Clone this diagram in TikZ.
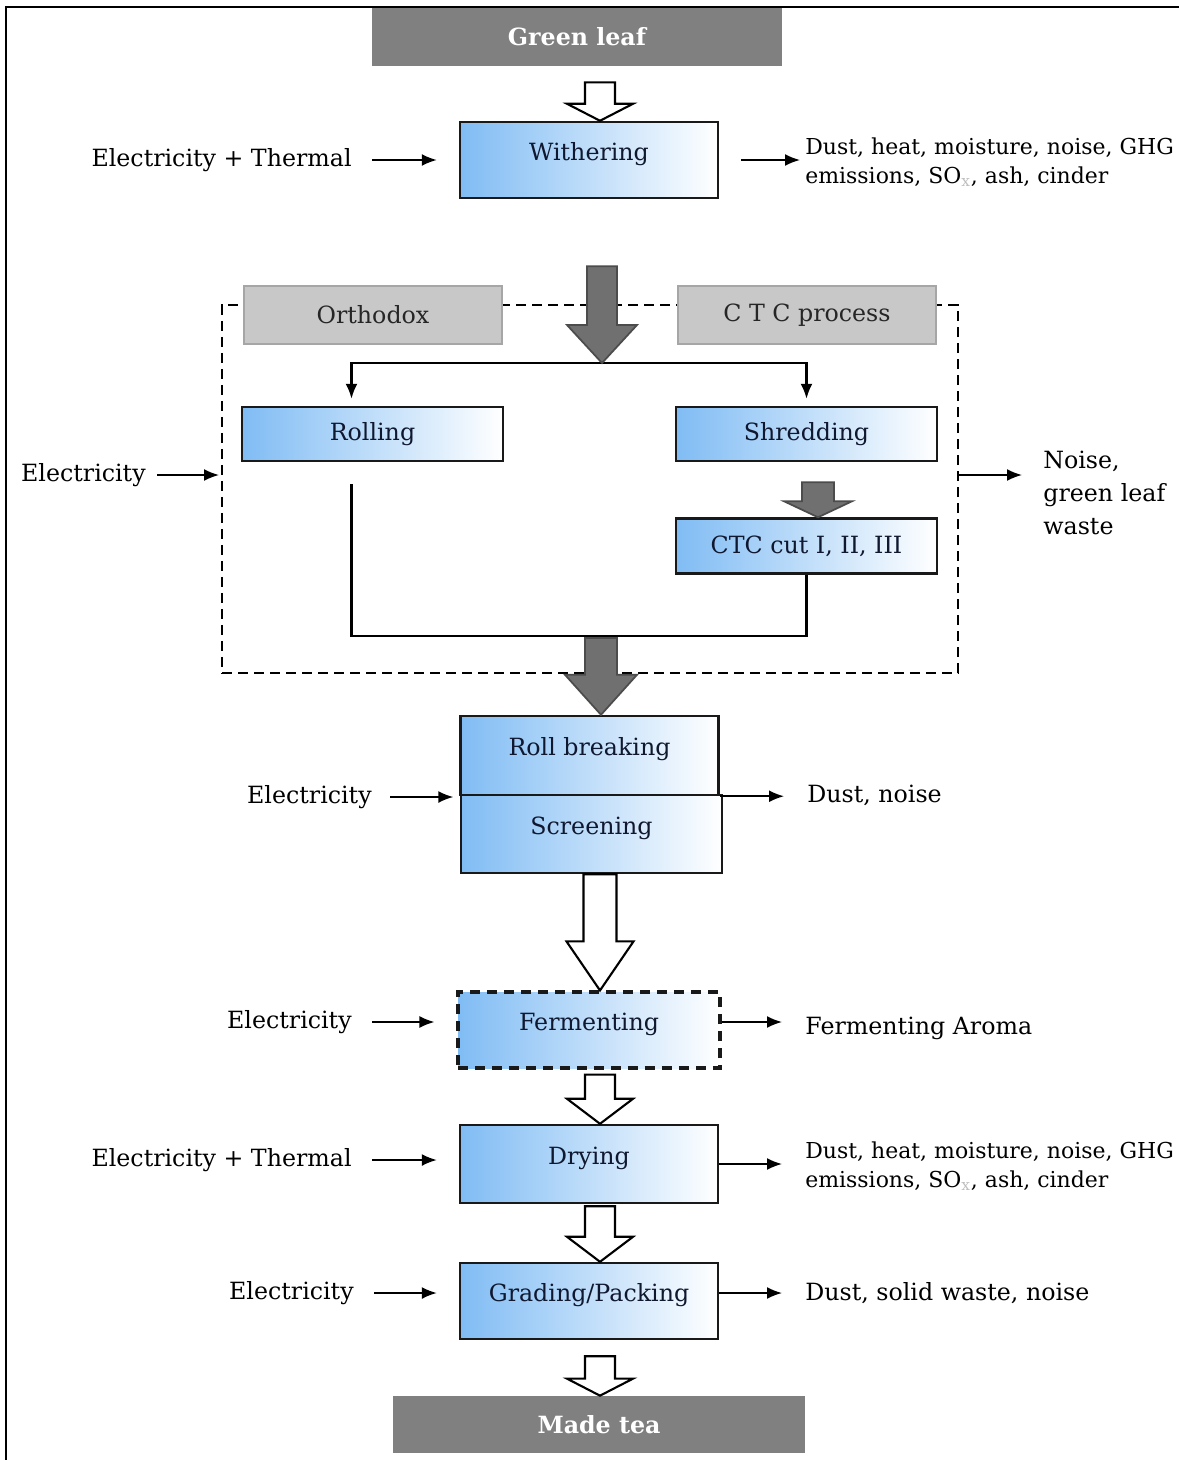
\documentclass[tikz,border=0pt]{standalone}
\usepackage{fontspec}
\setmainfont{DejaVu Serif}
\usepackage{tikz}
\usetikzlibrary{calc,arrows.meta,positioning}

\definecolor{procblue}{RGB}{128,188,244}
\definecolor{leafgrey}{RGB}{128,128,128}
\definecolor{typegrey}{RGB}{200,200,200}
\definecolor{pipegrey}{RGB}{112,112,112}
\definecolor{inktext}{RGB}{16,24,48}

\tikzset{
  srcbox/.style={fill=leafgrey, text=white, font=\bfseries, minimum width=8.2cm, minimum height=1.16cm, inner sep=0pt},
  proc/.style={draw=black!90, line width=1.4pt, left color=procblue, middle color=procblue!28, right color=white, text=inktext, minimum width=5.16cm, minimum height=1.52cm, inner sep=0pt, text height=0.3cm, text depth=0.3cm},
  flat/.style={minimum width=5.22cm, minimum height=1.08cm, text height=, text depth=},
  typebox/.style={fill=typegrey, draw=black!35, line width=0.8pt, minimum width=5.16cm, minimum height=1.16cm, inner sep=0pt, text=black!85},
  grouping/.style={draw, line width=1.2pt, dash pattern=on 0.2cm off 0.12cm, minimum width=14.72cm, minimum height=7.36cm},
  lbl/.style={inner sep=0pt},
  outtxt/.style={inner sep=0pt, anchor=west, align=left},
  feed/.style={-{Latex[length=0.3cm,width=0.24cm]}, line width=1pt, shorten <=0.4cm, shorten >=0.44cm},
  emit/.style={-{Latex[length=0.3cm,width=0.24cm]}, line width=1pt, shorten >=0.46cm},
  branch/.style={-{Latex[length=0.3cm,width=0.24cm]}, line width=1.2pt, shorten >=0.14cm},
  pipe/.style={line width=1.3pt},
  hollow/.style={draw=black, fill=white, line width=1.2pt},
  solidpipe/.style={draw=black!70, fill=pipegrey, line width=1pt}
}

\newcommand{\fatarrow}[6][]{%
  \draw[#1] ($(#2)+(-#4,0)$) -- ($(#3)+(-#4,-#6)$) -- ($(#3)+(-#5,-#6)$) -- (#3)
    -- ($(#3)+(#5,-#6)$) -- ($(#3)+(#4,-#6)$) -- ($(#2)+(#4,0)$) -- cycle;}

\begin{document}
\fontsize{13.5}{16}\selectfont
\begin{tikzpicture}[x=0.02cm, y=-0.02cm]
\useasboundingbox (0,0) rectangle (1179,1460);
\draw[line width=1.2pt] (6,1460) -- (6,7) -- (1179,7);

\coordinate (spine) at (600,0);

\node[srcbox] (green) at (577,37) {Green leaf};
\node[proc] (wither) at (589,160) {Withering};

\node[grouping] (group) at (590,489) {};
\node[typebox] (ortho) at (373,315) {Orthodox};
\node[typebox] (ctcp) at (807,315) {C T C process};
\node[proc, flat] (roll) at (372.5,434) {Rolling};
\node[proc, flat] (shred) at (806.5,434) {Shredding};
\node[proc, flat, minimum height=1.1cm] (ctccut) at (806.5,546) {CTC cut I, II, III};

\node[proc, minimum height=1.58cm] (rollbr) at (589.5,755.5) {Roll breaking};
\node[proc, minimum width=5.22cm, minimum height=1.56cm] (screen) at (591.5,834) {Screening};
\node[proc, minimum width=5.24cm, line width=1.8pt, dash pattern=on 0.2cm off 0.14cm] (ferm) at (589,1030) {Fermenting};
\node[proc, minimum height=1.56cm] (dry) at (589,1164) {Drying};
\node[proc] (grade) at (589,1301) {Grading/Packing};
\node[srcbox, minimum width=8.24cm, minimum height=1.14cm] (made) at (599,1424.5) {Made tea};

\node[lbl, anchor=east] (in1) at (352,160) {Electricity + Thermal};
\node[lbl, anchor=east] (in2) at (146,475) {Electricity};
\node[lbl, anchor=east] (in3) at (372,797) {Electricity};
\node[lbl, anchor=east] (in4) at (352,1022) {Electricity};
\node[lbl, anchor=east] (in5) at (352,1160) {Electricity + Thermal};
\node[lbl, anchor=east] (in6) at (354,1293) {Electricity};

\node[outtxt, font=\fontsize{12.5}{16.4}\selectfont] (out1) at (805,162) {Dust, heat, moisture, noise, GHG\\emissions, SO\textsubscript{\textcolor{black!25}{x}}, ash, cinder};
\node[outtxt, font=\fontsize{13.5}{18.7}\selectfont] (out2) at (1043,493) {Noise,\\green leaf\\waste};
\node[outtxt] (out3) at (807,795) {Dust, noise};
\node[outtxt] (out4) at (805,1028) {Fermenting Aroma};
\node[outtxt, font=\fontsize{12.5}{16.4}\selectfont] (out5) at (805,1166) {Dust, heat, moisture, noise, GHG\\emissions, SO\textsubscript{\textcolor{black!25}{x}}, ash, cinder};
\node[outtxt] (out6) at (805,1293) {Dust, solid waste, noise};

\draw[feed] (in1.east) -- (in1.east -| wither.west);
\draw[feed, shorten <=0.22cm, shorten >=0.04cm] (in2.east) -- (in2.east -| group.west);
\draw[feed, shorten <=0.36cm, shorten >=0.12cm] (in3.east) -- (in3.east -| rollbr.west);
\draw[feed] (in4.east) -- (in4.east -| ferm.west);
\draw[feed] (in5.east) -- (in5.east -| dry.west);
\draw[feed] (in6.east) -- (in6.east -| grade.west);

\draw[emit, shorten <=0.44cm, shorten >=0.1cm] (wither.east) -- (wither.east -| out1.west);
\draw[emit, shorten >=0.42cm] (group.east |- in2) -- (out2.west |- in2);
\draw[emit] (rollbr.south east) -- (rollbr.south east -| out3.west);
\draw[emit] (ferm.east |- in4) -- (out4.west |- in4);
\draw[emit] (dry.east) -- (dry.east -| out5.west);
\draw[emit] (grade.east |- in6) -- (out6.west |- in6);

\coordinate (split) at (602,363);
\draw[branch] (split) -| ($(roll.north)+(-21,0)$);
\draw[branch] (split) -| (shred.north);
\draw[pipe] ($(roll.south)+(-21,22)$) -- ++(0,152) -| (ctccut.south);

\coordinate (g1s) at ($(wither.south)+(13,67)$);
\coordinate (g2s) at ($(shred.south)+(11.5,20)$);
\coordinate (g2t) at (ctccut.north -| g2s);
\coordinate (g3s) at ($(group.south)+(11,-36)$);
\coordinate (g3t) at (rollbr.north -| g3s);
\fatarrow[solidpipe]{g1s}{split}{15}{35}{38}
\fatarrow[solidpipe]{g2s}{g2t}{16}{34}{16}
\fatarrow[solidpipe]{g3s}{g3t}{16}{36}{40}

\coordinate (h1s) at ($(green.south -| spine)+(0,16)$);
\coordinate (h1t) at (wither.north -| spine);
\coordinate (h2s) at (screen.south -| spine);
\coordinate (h2t) at (ferm.north -| spine);
\coordinate (h3s) at ($(ferm.south -| spine)+(0,5)$);
\coordinate (h3t) at (dry.north -| spine);
\coordinate (h4s) at ($(dry.south -| spine)+(0,2)$);
\coordinate (h4t) at (grade.north -| spine);
\coordinate (h5s) at ($(grade.south -| spine)+(0,16)$);
\coordinate (h5t) at (made.north -| spine);
\fatarrow[hollow]{h1s}{h1t}{15}{33}{17}
\fatarrow[hollow]{h2s}{h2t}{16.5}{33.5}{49}
\fatarrow[hollow]{h3s}{h3t}{15}{33}{25}
\fatarrow[hollow]{h4s}{h4t}{15}{33}{25}
\fatarrow[hollow]{h5s}{h5t}{15}{33}{17}
\end{tikzpicture}
\end{document}
